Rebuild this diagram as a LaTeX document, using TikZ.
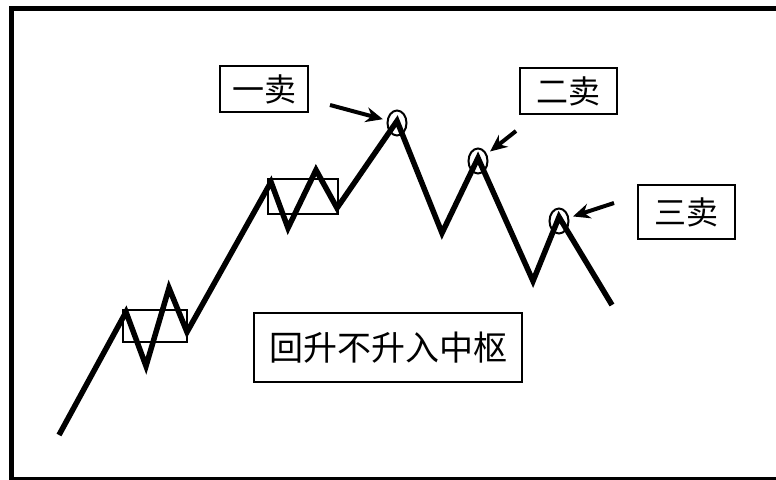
\documentclass[tikz,border=0pt]{standalone}
\usepackage{fontspec}
\newfontfamily\cjk{Noto Sans CJK SC}
\usetikzlibrary{shapes.geometric,arrows.meta}
\tikzset{
  labelbox/.style={draw, line width=1.5pt, inner sep=0pt, font=\cjk\fontsize{32}{32}\selectfont},
  zsbox/.style={draw, line width=1.2pt},
  trend/.style={line width=5.5pt, line join=miter},
  peakring/.style={draw, ellipse, line width=2pt, minimum width=19pt, minimum height=25pt, inner sep=0pt},
  pointer/.style={line width=4pt, -{Stealth[length=17pt,width=15pt]}, shorten >=4pt}
}
\begin{document}
\begin{tikzpicture}[x=1pt,y=-1pt]
\useasboundingbox (0,0) rectangle (776,479);
\fill[white] (0,0) rectangle (776,479);
\begin{scope}
\clip (0,0) rectangle (776,479);
\draw[line width=5pt] (11.5,8.5) rectangle (800,479.5);
\end{scope}
% zhongshu boxes
\draw[zsbox] (123,310) rectangle (187,342);
\draw[zsbox] (268,179) rectangle (338,214);
% trend coordinates
\coordinate (p0) at (59,435);
\coordinate (p1) at (126,312);
\coordinate (p2) at (146,366);
\coordinate (p3) at (169,288);
\coordinate (p4) at (187,332);
\coordinate (p5) at (271,182);
\coordinate (p6) at (288,228);
\coordinate (p7) at (316,170);
\coordinate (p8) at (337,208);
\coordinate (p9) at (397,121);
\coordinate (p10) at (442,233);
\coordinate (p11) at (478,158);
\coordinate (p12) at (533,281);
\coordinate (p13) at (559,217);
\coordinate (p14) at (612,305);
\draw[trend] (p0) -- (p1) -- (p2) -- (p3) -- (p4) -- (p5) -- (p6) -- (p7) -- (p8) -- (p9) -- (p10) -- (p11) -- (p12) -- (p13) -- (p14);
% rings
\node[peakring] (c1) at (397,123) {};
\node[peakring] (c2) at (478,161) {};
\node[peakring] (c3) at (559,221) {};
% labels
\node[labelbox, minimum width=88pt, minimum height=46pt] (l1) at (264,89) {一卖};
\node[labelbox, minimum width=97pt, minimum height=46pt] (l2) at (568.5,91) {二卖};
\node[labelbox, minimum width=97pt, minimum height=54pt] (l3) at (686.5,212) {三卖};
\node[labelbox, minimum width=268pt, minimum height=69pt, font=\cjk\fontsize{34}{34}\selectfont] (l4) at (388,347.5) {回升不升入中枢};
% pointers
\coordinate (a1) at (330,105);
\coordinate (a2) at (516,131);
\coordinate (a3) at (614,203);
\draw[pointer] (a1) -- (c1);
\draw[pointer] (a2) -- (c2);
\draw[pointer] (a3) -- (c3);
\end{tikzpicture}
\end{document}
